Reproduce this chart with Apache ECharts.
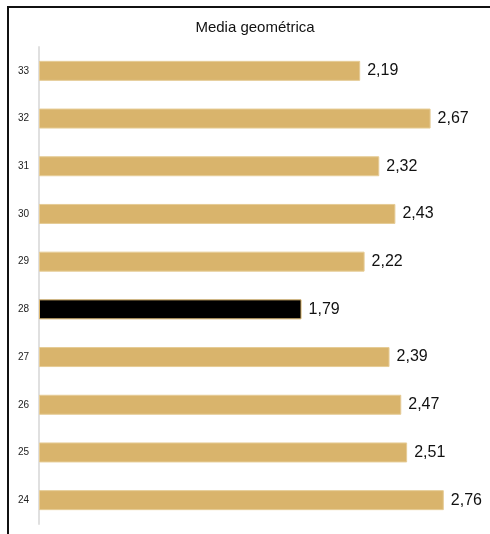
<!DOCTYPE html>
<html><head><meta charset="utf-8">
<script src="https://cdn.jsdelivr.net/npm/echarts@6/dist/echarts.min.js"></script>
<style>html,body{margin:0;padding:0;background:#fff}#c{width:490px;height:534px}</style>
</head><body><div id="c"></div>
<script>
var categories = ['24','25','26','27','28','29','30','31','32','33'];
var values = [2.76, 2.51, 2.47, 2.39, 1.79, 2.22, 2.43, 2.32, 2.67, 2.19];
var highlight = '28';
var title = 'Media geométrica';

var chart = echarts.init(document.getElementById('c'), null, {renderer:'canvas'});
var data = values.map(function(v,i){
  var hi = categories[i] === highlight;
  return {value:v, itemStyle:{color: hi ? '#000000' : '#D9B46C', borderColor: hi ? '#D9B46C' : '#E6CC96', borderWidth: 1}};
});
chart.setOption({
  animation:false,
  title:{text:title, left:250, top:15, textAlign:'center', textStyle:{fontFamily:'Liberation Sans, Arial', fontSize:15, fontWeight:'normal', color:'#111'}},
  grid:{left:39, right:11, top:47, bottom:10, containLabel:false},
  xAxis:{type:'value', min:0, max:3, show:false},
  yAxis:{type:'category', data:categories,
    axisLine:{show:true, lineStyle:{color:'#e0e0e0', width:2}},
    axisTick:{show:false},
    axisLabel:{fontFamily:'Liberation Sans, Arial', fontSize:10, color:'#222', margin:10}},
  series:[{type:'bar', data:data, barWidth:20,
    label:{show:true, position:'right', distance:7, fontFamily:'Liberation Sans, Arial', fontSize:16, color:'#111',
      formatter:function(p){return p.value.toFixed(2).replace('.',',');}}}],
  graphic:[
    {type:'line', shape:{x1:8, y1:7, x2:490, y2:7}, style:{stroke:'#111', lineWidth:2}},
    {type:'line', shape:{x1:8, y1:6, x2:8, y2:534}, style:{stroke:'#111', lineWidth:2}}
  ]
});
</script></body></html>
